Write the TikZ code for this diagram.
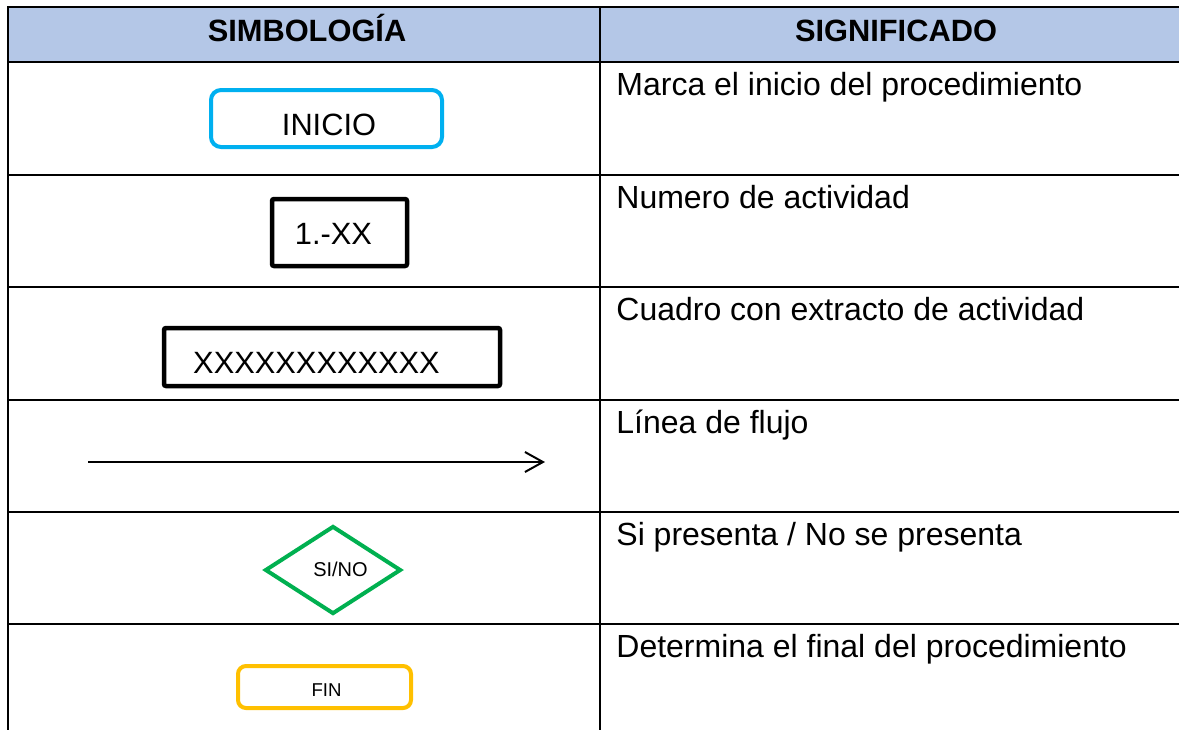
\documentclass[tikz,border=0pt]{standalone}
\usepackage{fontspec}
\setmainfont{Liberation Sans}
\usetikzlibrary{shapes.geometric,arrows.meta}
\definecolor{headblue}{RGB}{180,199,231}
\definecolor{iniciocyan}{RGB}{0,176,240}
\definecolor{sinogreen}{RGB}{0,176,80}
\definecolor{finorange}{RGB}{255,192,0}

\begin{document}
\begin{tikzpicture}[x=0.5pt,y=-0.5pt,
    grid/.style={line width=1pt},
    body/.style={font=\fontsize{15.4}{18}\selectfont, inner sep=0pt},
    small/.style={font=\fontsize{10}{12}\selectfont, inner sep=0pt},
    head/.style={font=\fontsize{15.4}{18}\selectfont\bfseries, inner sep=0pt, anchor=base},
    desc/.style={font=\fontsize{16}{19}\selectfont, inner sep=0pt, anchor=base west},
    sym/.style={draw, inner sep=0pt}]
    \useasboundingbox (0,0) rectangle (1179,730);
    % Header row
    \fill[headblue] (8,7) rectangle (1179,62);
    \node[head] (colsym) at (307,41) {SIMBOLOGÍA};
    \node[head] (colsig) at (896,41) {SIGNIFICADO};
    % Draw table lines
    \draw[grid] (1179,7) -- (8,7) -- (8,730);
    \draw[grid] (600,7) -- (600,730);
    \foreach \y in {62,175,287,400,512,624}
        \draw[grid] (8,\y) -- (1179,\y);
    % Symbols
    \node[sym, draw=iniciocyan, line width=2pt, rounded corners=5pt, minimum width=115.5pt, minimum height=28.5pt] (inicio) at (326.5,118.5) {};
    \node[body] (iniciotxt) at (329,125) {INICIO};
    \node[sym, line width=2.25pt, rounded corners=1pt, minimum width=67.5pt, minimum height=33.5pt] (actividad) at (339.5,232.5) {};
    \node[body] (actividadtxt) at (333.5,234) {1.-XX};
    \node[sym, line width=2.25pt, rounded corners=1pt, minimum width=168pt, minimum height=29pt] (extracto) at (332,357) {};
    \node[body] (extractotxt) at (316.5,363) {XXXXXXXXXXXX};
    \coordinate (flujoa) at (88,462);
    \coordinate (flujob) at (545,462);
    \draw[-{Straight Barb[length=9pt,width=10pt]}, line width=1pt] (flujoa) -- (flujob);
    \node[sym, diamond, draw=sinogreen, line width=2pt, minimum width=68pt, minimum height=44pt] (sino) at (333,570) {};
    \node[small] (sinotxt) at (340.5,569.5) {SI/NO};
    \node[sym, draw=finorange, line width=2pt, rounded corners=4pt, minimum width=86.5pt, minimum height=21pt] (fin) at (324.5,687) {};
    \node[small, font=\fontsize{9.3}{11}\selectfont] (fintxt) at (326.5,690.5) {FIN};
    % Meanings
    \node[desc] (sig1) at (616,95) {Marca el inicio del procedimiento};
    \node[desc] (sig2) at (616,208) {Numero de actividad};
    \node[desc] (sig3) at (616,320) {Cuadro con extracto de actividad};
    \node[desc] (sig4) at (616,433) {Línea de flujo};
    \node[desc] (sig5) at (616,545) {Si presenta / No se presenta};
    \node[desc] (sig6) at (616,657) {Determina el final del procedimiento};
\end{tikzpicture}
\end{document}
